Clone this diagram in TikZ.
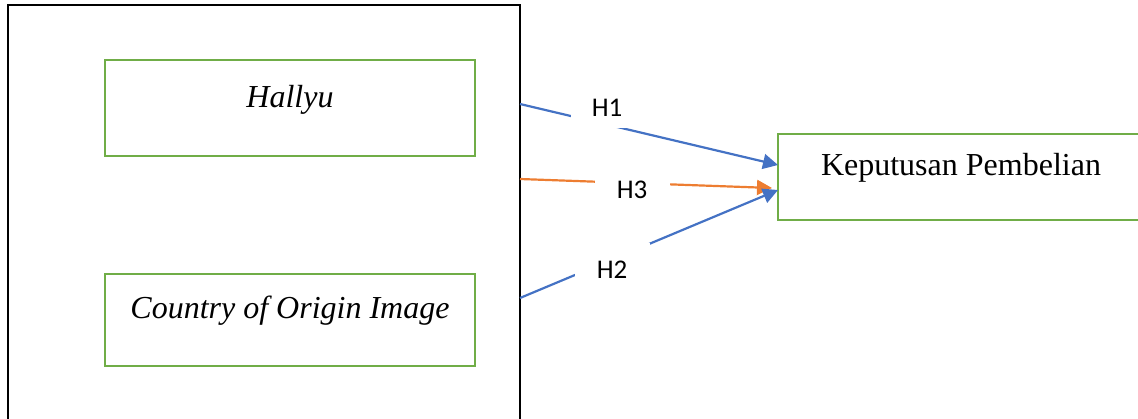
\documentclass[tikz,border=0pt]{standalone}
\usepackage{fontspec}
\setmainfont{Liberation Serif}
\newfontfamily\labelfont{Carlito}
\usetikzlibrary{arrows.meta}
\definecolor{boxgreen}{HTML}{70AD47}
\definecolor{arrblue}{HTML}{4472C4}
\definecolor{arrorange}{HTML}{ED7D31}
\tikzset{
  varbox/.style={draw=boxgreen, line width=2.6pt, inner sep=0pt, outer sep=0pt, minimum width=370pt},
  vartext/.style={inner sep=0pt, anchor=base, font=\fontsize{32}{38}\selectfont},
  hlabel/.style={fill=white, inner sep=0pt, font=\labelfont\fontsize{27}{32}\selectfont},
  conn/.style={line width=2.2pt, -{Triangle[length=15pt,width=15pt]}},
}
\begin{document}
\begin{tikzpicture}[x=1pt,y=-1pt]
\useasboundingbox (0,0) rectangle (1138,418);
\clip (0,0) rectangle (1138,418);
% outer frame
\node (frame) [draw=black, line width=2.6pt, inner sep=0pt, outer sep=0pt,
  minimum width=512pt, minimum height=440pt, anchor=north west] at (8,5) {};
% variable boxes
\node (hallyu) [varbox, minimum height=96pt] at (290,108) {};
\node (hallyuT) [vartext] at (290,107) {\itshape Hallyu};
\node (coo) [varbox, minimum height=92pt] at (290,320) {};
\node (cooT) [vartext] at (290,318) {\itshape Country of Origin Image};
\node (kp) [draw=boxgreen, line width=2.6pt, inner sep=0pt, outer sep=0pt,
  minimum width=366pt, minimum height=86pt] at (961,177) {};
\node (kpT) [vartext] at (961,175) {Keputusan Pembelian};
% connector end points
\coordinate (s1) at (520,104);
\coordinate (s3) at (520,179);
\coordinate (s2) at (520,298);
\coordinate (t1) at (778,165);
\coordinate (t3) at (772,188);
\coordinate (t2) at (778,190);
\draw[conn, draw=arrblue, fill=arrblue] (s1) -- (t1);
\draw[conn, draw=arrorange, fill=arrorange] (s3) -- (t3);
\draw[conn, draw=arrblue, fill=arrblue] (s2) -- (t2);
% hypothesis labels
\node (h1) [hlabel, minimum width=72pt, minimum height=39pt] at (607,108) {H1};
\node (h3) [hlabel, minimum width=75pt, minimum height=40pt] at (632,190) {H3};
\node (h2) [hlabel, minimum width=75pt, minimum height=54pt] at (612,270) {H2};
\end{tikzpicture}
\end{document}
